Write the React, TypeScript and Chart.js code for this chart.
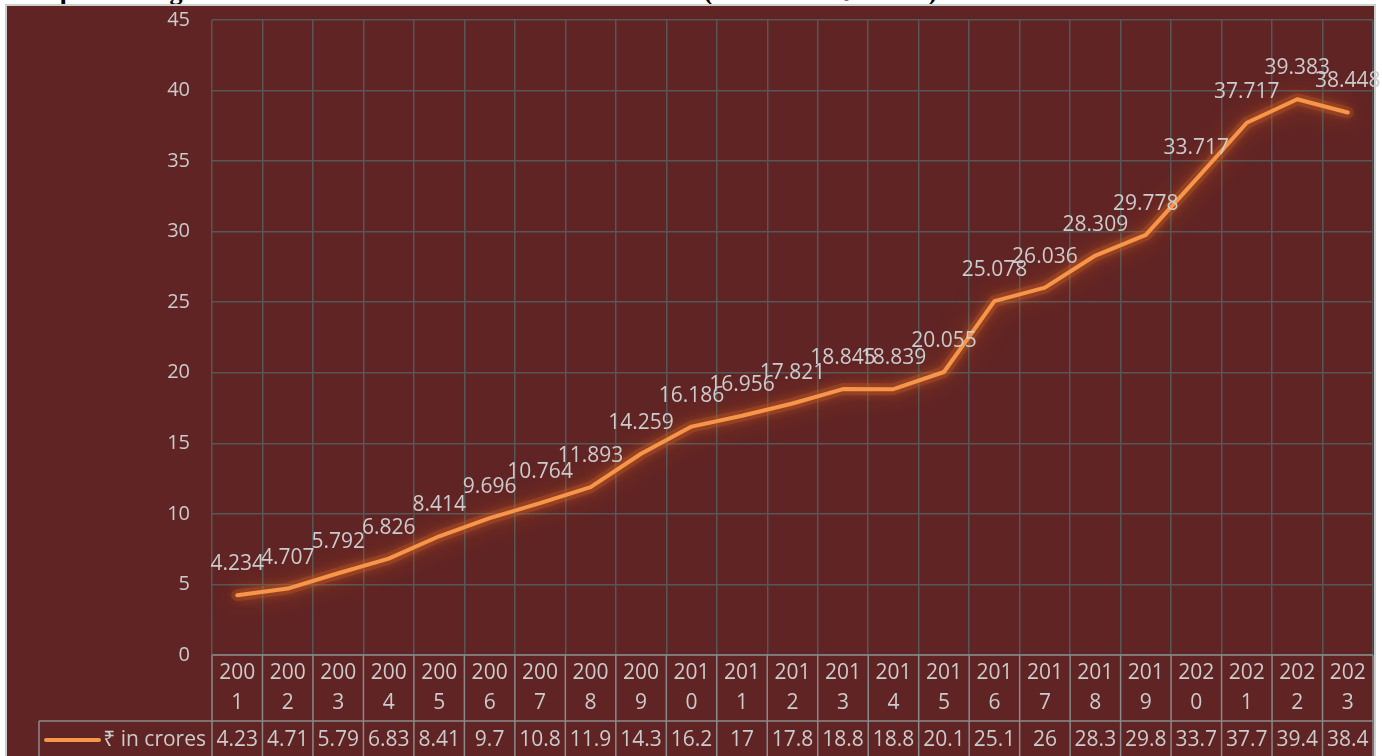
import React, { useEffect, useRef } from 'react';
import { Chart, registerables } from 'chart.js';

Chart.register(...registerables);

const years = ['2001', '2002', '2003', '2004', '2005', '2006', '2007', '2008', '2009', '2010', '2011', '2012', '2013', '2014', '2015', '2016', '2017', '2018', '2019', '2020', '2021', '2022', '2023'];
const values = [4.234, 4.707, 5.792, 6.826, 8.414, 9.696, 10.764, 11.893, 14.259, 16.186, 16.956, 17.821, 18.845, 18.839, 20.055, 25.078, 26.036, 28.309, 29.778, 33.717, 37.717, 39.383, 38.448];
const seriesName = '₹ in crores';
const titleText = 'Graph 1: Budget Allocation Trend over the Last Two Decades (Amount in ₹ crores)';

const FONT = '"Open Sans", "Noto Sans", sans-serif';
const TEXT = '#cbcbcb';
const GRID = '#575757';
const TABLE = '#8a8a8a';
const LINE = '#F7964A';

const tableText = (v: number) => String(parseFloat(v.toPrecision(3)));

const glowPlugin = {
  id: 'glow',
  beforeDatasetDraw(chart: any) {
    const ctx = chart.ctx;
    const meta = chart.getDatasetMeta(0);
    ctx.save();
    ctx.shadowColor = 'rgba(225,105,30,0.85)';
    ctx.shadowBlur = 26;
    ctx.strokeStyle = 'rgba(190,90,35,0.3)';
    ctx.lineWidth = 12;
    ctx.lineJoin = 'round';
    ctx.lineCap = 'round';
    ctx.beginPath();
    meta.data.forEach((pt: any, i: number) => {
      if (i === 0) ctx.moveTo(pt.x, pt.y);
      else ctx.lineTo(pt.x, pt.y);
    });
    ctx.stroke();
    ctx.restore();
    ctx.save();
    ctx.shadowColor = 'rgba(240,115,35,0.7)';
    ctx.shadowBlur = 12;
  },
  afterDatasetDraw(chart: any) {
    chart.ctx.restore();
  },
};

const labelsPlugin = {
  id: 'pointLabels',
  afterDatasetsDraw(chart: any) {
    const ctx = chart.ctx;
    const meta = chart.getDatasetMeta(0);
    ctx.save();
    ctx.font = `21px ${FONT}`;
    ctx.fillStyle = TEXT;
    ctx.textAlign = 'center';
    ctx.textBaseline = 'middle';
    meta.data.forEach((pt: any, i: number) => {
      ctx.fillText(String(values[i]), pt.x, pt.y - 31);
    });
    ctx.restore();
  },
};

const tablePlugin = {
  id: 'dataTable',
  afterDraw(chart: any) {
    const ctx = chart.ctx;
    const xs = chart.scales.x;
    const area = chart.chartArea;
    const H = chart.height;
    const half = (xs.getPixelForValue(1) - xs.getPixelForValue(0)) / 2;
    const rowY = area.bottom + 66;
    const legendLeft = 39;
    ctx.save();
    ctx.strokeStyle = TABLE;
    ctx.lineWidth = 1.5;
    ctx.beginPath();
    ctx.moveTo(area.left, area.bottom);
    ctx.lineTo(area.right, area.bottom);
    ctx.moveTo(legendLeft, rowY);
    ctx.lineTo(area.right, rowY);
    ctx.moveTo(legendLeft, rowY);
    ctx.lineTo(legendLeft, H);
    for (let i = 0; i <= years.length; i++) {
      const x = xs.getPixelForValue(i) - half;
      ctx.moveTo(x, area.bottom);
      ctx.lineTo(x, H);
    }
    ctx.stroke();

    ctx.font = `21px ${FONT}`;
    ctx.fillStyle = TEXT;
    ctx.textAlign = 'center';
    ctx.textBaseline = 'middle';
    const ty = rowY + 19;
    values.forEach((v, i) => {
      ctx.fillText(tableText(v), xs.getPixelForValue(i), ty);
    });

    ctx.strokeStyle = LINE;
    ctx.lineWidth = 4;
    ctx.lineCap = 'round';
    ctx.beginPath();
    ctx.moveTo(46, ty);
    ctx.lineTo(99, ty);
    ctx.stroke();
    ctx.textAlign = 'right';
    ctx.fillText(seriesName, area.left - 6, ty);
    ctx.restore();
  },
};

export default function App() {
  const ref = useRef<HTMLCanvasElement | null>(null);

  useEffect(() => {
    document.body.style.margin = '0';
    const canvas = ref.current;
    if (!canvas) return;
    const chart = new Chart(canvas, {
      type: 'line',
      data: {
        labels: years.map((y) => [y.slice(0, 3), y.slice(3)]),
        datasets: [
          {
            label: seriesName,
            data: values,
            borderColor: LINE,
            backgroundColor: LINE,
            borderWidth: 4,
            borderCapStyle: 'round',
            borderJoinStyle: 'round',
            pointRadius: 0,
            tension: 0,
          },
        ],
      },
      options: {
        animation: false,
        responsive: false,
        devicePixelRatio: 1,
        layout: { padding: { left: 0, top: 20, right: 9, bottom: 0 } },
        plugins: {
          legend: { display: false },
          tooltip: { enabled: false },
          title: { display: false },
        },
        scales: {
          x: {
            type: 'category',
            offset: true,
            afterFit: (s: any) => {
              s.height = 101;
            },
            grid: { offset: true, color: GRID, lineWidth: 1.5, drawTicks: false },
            border: { display: false },
            ticks: {
              autoSkip: false,
              maxRotation: 0,
              minRotation: 0,
              padding: 3,
              color: TEXT,
              font: { family: FONT, size: 21, lineHeight: 30 / 21 },
            },
          },
          y: {
            min: 0,
            max: 45,
            afterFit: (s: any) => {
              s.width = 212;
              s.paddingTop = 12;
              s.paddingBottom = 0;
            },
            grid: { color: GRID, lineWidth: 1.5, drawTicks: false },
            border: { display: false },
            ticks: {
              stepSize: 5,
              padding: 22,
              color: TEXT,
              font: { family: FONT, size: 20 },
            },
          },
        },
      },
      plugins: [glowPlugin, labelsPlugin, tablePlugin],
    } as any);
    return () => chart.destroy();
  }, []);

  return (
    <div style={{ position: 'fixed', left: 0, top: 0, width: 1382, height: 756, overflow: 'hidden', background: '#ffffff' }}>
      <div
        style={{
          position: 'absolute',
          left: 15,
          top: -22,
          whiteSpace: 'nowrap',
          fontFamily: '"Liberation Serif", "Times New Roman", serif',
          fontWeight: 'bold',
          fontSize: 26,
          lineHeight: '27px',
          color: '#000',
        }}
      >
        {titleText}
      </div>
      <div
        style={{
          position: 'absolute',
          left: 5,
          top: 4,
          width: 1371,
          height: 770,
          background: '#612424',
          border: '2px solid #cfcfcf',
          boxSizing: 'border-box',
        }}
      />
      <canvas ref={ref} width={1382} height={756} style={{ position: 'absolute', left: 0, top: 0, display: 'block' }} />
    </div>
  );
}
